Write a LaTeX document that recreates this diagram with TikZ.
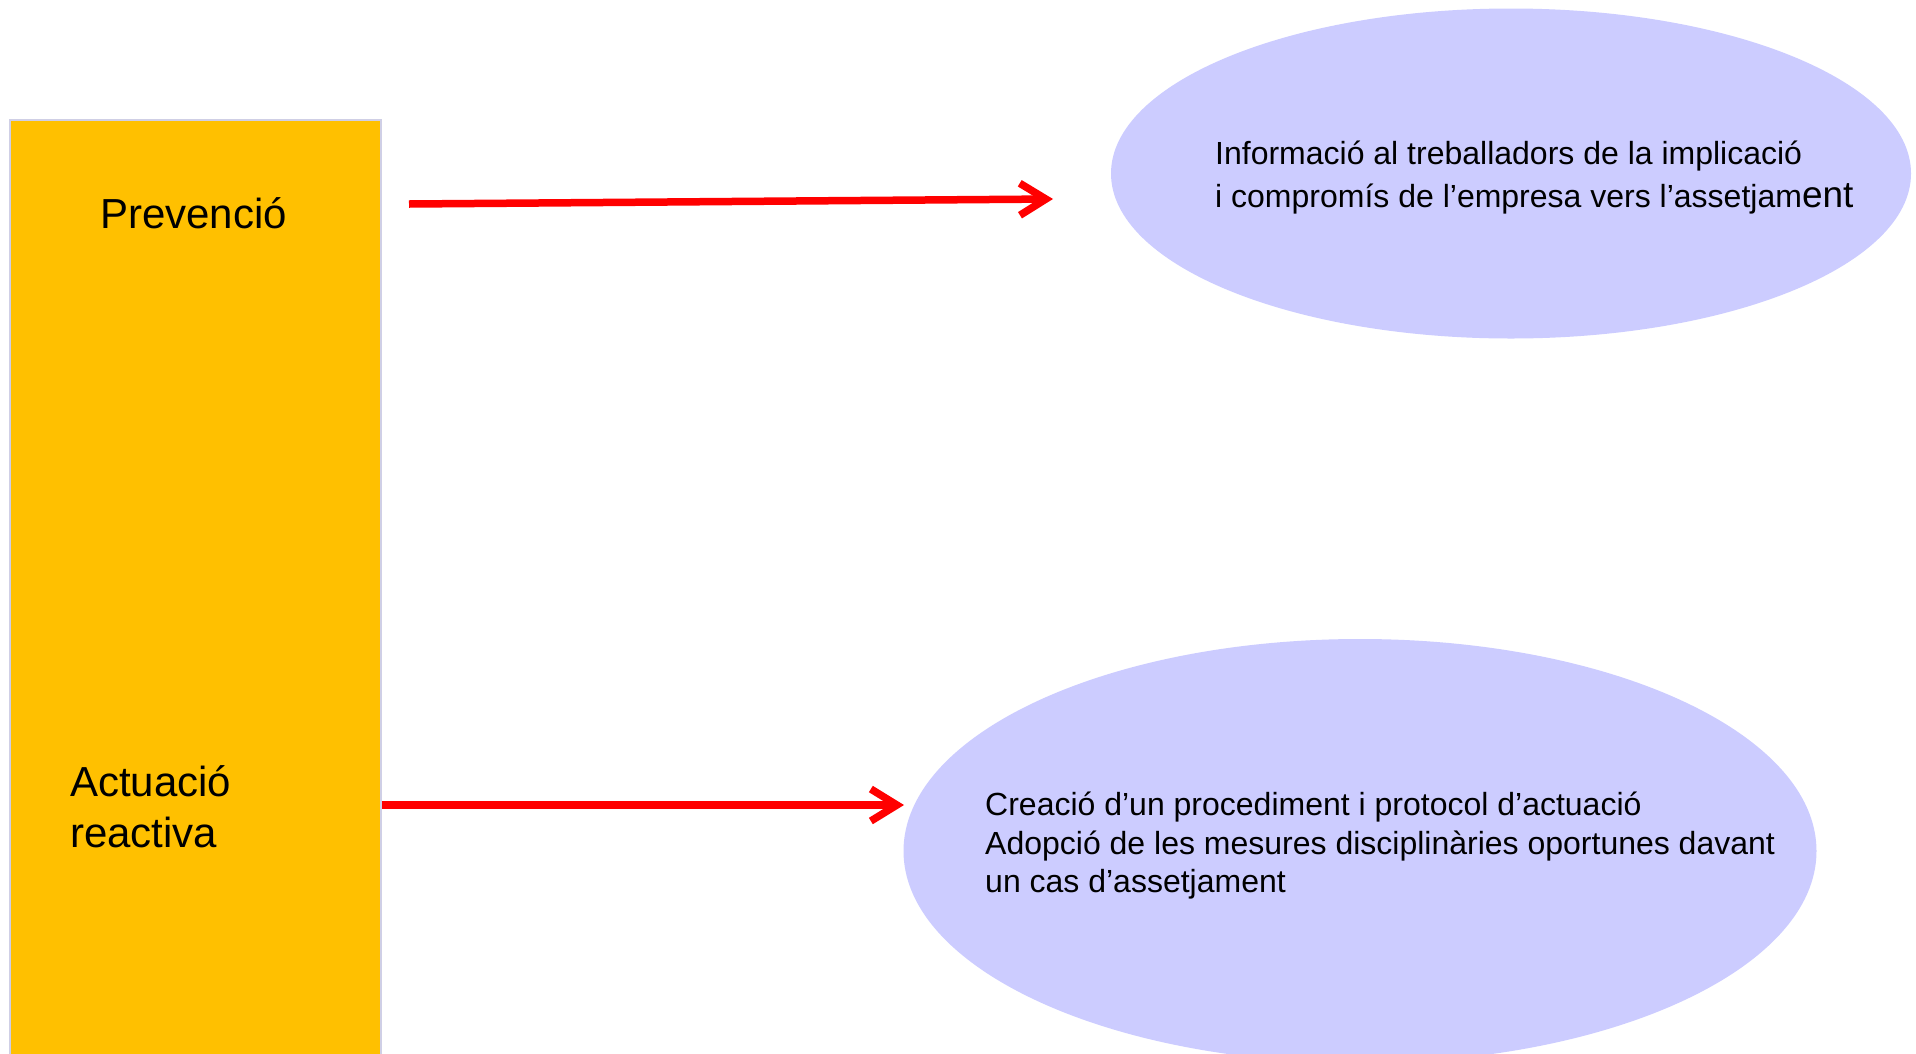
\documentclass[tikz,border=0pt]{standalone}
\usepackage{fontspec}
\setmainfont{Liberation Sans}
\usetikzlibrary{arrows.meta,shapes.geometric}
\definecolor{boxorange}{HTML}{FFC000}
\definecolor{ellfill}{HTML}{CCCCFF}
\definecolor{boxedge}{HTML}{CFCFE6}
\definecolor{arrred}{HTML}{FF0000}
\begin{document}
\begin{tikzpicture}[x=1pt,y=-1pt,
  bigtext/.style={inner sep=0pt, anchor=base west, font=\fontsize{42}{51}\selectfont},
  smalltext/.style={inner sep=0pt, anchor=base west, font=\fontsize{32}{40}\selectfont},
  bubble/.style={ellipse, fill=ellfill, inner sep=0pt},
  redarrow/.style={draw=arrred, line width=7.5pt, -{Straight Barb[length=26pt,width=32pt]}}]
\useasboundingbox (0,0) rectangle (1916,1053);
\clip (0,0) rectangle (1916,1053);
\fill[white] (0,0) rectangle (1916,1053);
% side bar
\node[draw=boxedge, line width=2pt, fill=boxorange, minimum width=371pt, minimum height=960pt, inner sep=0pt, anchor=north west] (side) at (8.6,118.5) {};
% ellipses
\node[bubble, minimum width=800pt, minimum height=330pt] (e1) at (1511,173.5) {};
\node[bubble, minimum width=913pt, minimum height=424pt] (e2) at (1360,851) {};
% labels
\node[bigtext] (prev) at (100,228) {Prevenció};
\node[bigtext] (act1) at (70,796) {Actuació};
\node[bigtext] (act2) at (70,847) {reactiva};
\node[smalltext] (i1) at (1215,164) {Informació al treballadors de la implicació};
\node[smalltext] (i2) at (1215,207) {i compromís de l’empresa vers l’assetjam{\fontsize{37}{40}\selectfont ent}};
\node[smalltext] (c1) at (985,815) {Creació d’un procediment i protocol d’actuació};
\node[smalltext] (c2) at (985,854) {Adopció de les mesures disciplinàries oportunes davant};
\node[smalltext] (c3) at (985,892) {un cas d’assetjament};
% arrows
\coordinate (a1s) at (409,204);
\coordinate (a1e) at (1053,199);
\coordinate (a2s) at (side.east |- 0,805);
\coordinate (a2e) at (904,805);
\draw[redarrow] (a1s) -- (a1e);
\draw[redarrow] (a2s) -- (a2e);
\end{tikzpicture}
\end{document}
